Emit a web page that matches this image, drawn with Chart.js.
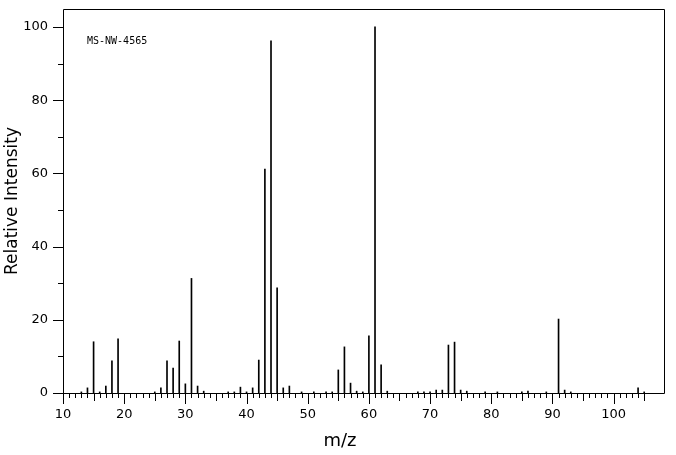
<!DOCTYPE html>
<html>
<head>
<meta charset="utf-8">
<title>MS-NW-4565</title>
<script src="https://cdn.jsdelivr.net/npm/chart.js@4.4.0/dist/chart.umd.min.js"></script>
<style>
  html, body { margin: 0; padding: 0; background: #fff; }
</style>
</head>
<body>
<canvas id="myChart" width="676" height="455"></canvas>
<script>
// peaks
var mz = [13, 14, 15, 16, 17, 18, 19,
  25, 26, 27, 28, 29, 30, 31, 32, 33,
  37, 38, 39, 40, 41, 42, 43, 44, 45, 46, 47,
  49, 51, 53, 54, 55, 56, 57, 58, 59, 60, 61, 62, 63,
  68, 69, 70, 71, 72, 73, 74, 75, 76,
  79, 81, 85, 86, 89,
  91, 92, 93,
  104, 105];
var intensity = [0.3, 1.4, 14.0, 0.3, 1.9, 8.8, 14.8,
  0.3, 1.4, 8.8, 6.8, 14.2, 2.5, 31.3, 1.9, 0.5,
  0.3, 0.3, 1.6, 0.3, 1.4, 9.0, 61.2, 96.2, 28.7, 1.4, 1.9,
  0.3, 0.3, 0.3, 0.3, 6.3, 12.6, 2.7, 0.5, 0.3, 15.6, 100, 7.7, 0.5,
  0.3, 0.3, 0.3, 0.8, 0.8, 13.1, 13.9, 0.8, 0.5,
  0.3, 0.3, 0.3, 0.5, 0.3,
  20.2, 0.8, 0.3,
  1.4, 0.3];

var sampleName = 'MS-NW-4565';
var xTitle = 'm/z';
var yTitle = 'Relative Intensity';
var xTickFrom = 10, xTickTo = 105;
var yTickFrom = 0, yTickTo = 100;

var points = mz.map(function (m, i) {
  return { x: m, y: intensity[i] };
});

// frame, tick marks of different lengths, x title and sample name
var frameTicks = {
  id: 'frameTicks',
  afterDraw: function (chart) {
    var ctx = chart.ctx;
    var a = chart.chartArea;
    var xs = chart.scales.x;
    var ys = chart.scales.y;
    ctx.save();
    ctx.strokeStyle = '#000';
    ctx.lineWidth = 1;
    ctx.beginPath();
    ctx.rect(a.left + 0.5, a.top + 0.5, a.right - a.left - 1, a.bottom - a.top);
    for (var v = xTickFrom; v <= xTickTo; v++) {
      var px = Math.round(xs.getPixelForValue(v)) + 0.5;
      var len = v % 10 === 0 ? 11 : (v % 5 === 0 ? 8 : 5);
      ctx.moveTo(px, a.bottom);
      ctx.lineTo(px, a.bottom + len);
    }
    for (var t = yTickFrom; t <= yTickTo; t += 10) {
      var py = Math.round(ys.getPixelForValue(t)) + 0.5;
      var l = t % 20 === 0 ? 10 : 5;
      ctx.moveTo(a.left, py);
      ctx.lineTo(a.left - l, py);
    }
    ctx.stroke();

    ctx.fillStyle = '#000';
    ctx.textAlign = 'center';
    ctx.textBaseline = 'middle';
    ctx.font = '18px "DejaVu Sans"';
    ctx.fillText(xTitle, 340, 441);
    ctx.textAlign = 'left';
    ctx.font = '10px "DejaVu Sans Mono"';
    ctx.fillText(sampleName, 87, 41);
    ctx.restore();
  }
};

function noPad(scale) {
  scale.paddingTop = 0;
  scale.paddingBottom = 0;
  scale.paddingLeft = 0;
  scale.paddingRight = 0;
}

var ctx = document.getElementById('myChart').getContext('2d');
var config = {
  type: 'bar',
  data: {
    datasets: [{
      data: points,
      backgroundColor: '#000',
      borderWidth: 0,
      barThickness: 1
    }]
  },
  options: {
    responsive: false,
    animation: false,
    layout: { padding: { top: 9, right: 11, left: 0, bottom: 0 } },
    plugins: {
      legend: { display: false },
      tooltip: { enabled: false }
    },
    scales: {
      x: {
        type: 'linear',
        offset: false,
        min: 10,
        max: 108.4,
        grid: { display: false, drawTicks: false },
        border: { display: false },
        ticks: {
          stepSize: 10,
          includeBounds: false,
          maxRotation: 0,
          autoSkip: false,
          padding: 14,
          color: '#000',
          font: { family: 'DejaVu Sans', size: 13 }
        },
        afterFit: function (scale) { scale.height = 62; noPad(scale); }
      },
      y: {
        min: 0,
        max: 104.9,
        grid: { display: false, drawTicks: false },
        border: { display: false },
        title: {
          display: true,
          text: yTitle,
          color: '#000',
          padding: { top: 2, bottom: 0 },
          font: { family: 'DejaVu Sans', size: 17 }
        },
        ticks: {
          stepSize: 10,
          includeBounds: false,
          padding: 15,
          color: '#000',
          font: { family: 'DejaVu Sans', size: 13 },
          callback: function (value) {
            return value % 20 === 0 ? value : '';
          }
        },
        afterFit: function (scale) { scale.width = 63; noPad(scale); }
      }
    }
  },
  plugins: [frameTicks]
};
var myChart = new Chart(ctx, config);
</script>
</body>
</html>
